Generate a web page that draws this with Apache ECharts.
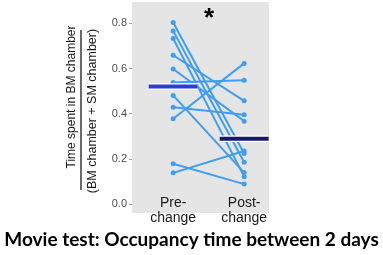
<!DOCTYPE html>
<html>
<head>
<meta charset="utf-8">
<script src="https://cdn.jsdelivr.net/npm/echarts@6/dist/echarts.min.js"></script>
<style>
  html, body { margin: 0; padding: 0; background: #fff; }
  #chart { width: 383px; height: 255px; }
</style>
</head>
<body>
<div id="chart"></div>
<script>
// data
var categories = ['Pre-\nchange', 'Post-\nchange'];
var preValues  = [0.804, 0.767, 0.733, 0.659, 0.598, 0.538, 0.481, 0.429, 0.378, 0.178, 0.138];
var postValues = [0.224, 0.185, 0.121, 0.457, 0.367, 0.548, 0.139, 0.395, 0.623, 0.088, 0.235];
var groupMeans = [0.521, 0.289];
var yTicks = [0, 0.2, 0.4, 0.6, 0.8];

var lineBlue = '#3f9ef2';
var meanColors = ['#2b3ecf', '#16186a'];
var halfBar = 0.345;

var chart = echarts.init(document.getElementById('chart'));

var series = [];
for (var i = 0; i < preValues.length; i++) {
	series.push({
		type: 'line',
		data: [[1, preValues[i]], [2, postValues[i]]],
		symbol: 'circle',
		symbolSize: 5,
		itemStyle: {color: lineBlue},
		lineStyle: {color: lineBlue, width: 2},
		z: 2
	});
}
// mean bars: white outline under a coloured bar
for (var g = 0; g < groupMeans.length; g++) {
	var seg = [[g + 1 - halfBar, groupMeans[g]], [g + 1 + halfBar, groupMeans[g]]];
	series.push({
		type: 'line', data: seg, symbol: 'none',
		lineStyle: {color: '#ffffff', width: 6.5, cap: 'butt'},
		z: 3
	});
	series.push({
		type: 'line', data: seg, symbol: 'none',
		lineStyle: {color: meanColors[g], width: 4, cap: 'butt'},
		z: 4
	});
}

var option = {
	animation: false,
	title: {
		text: 'Movie test: Occupancy time between 2 days',
		left: 'center',
		top: 225,
		textStyle: {fontFamily: 'Lato', fontWeight: 'bold', fontSize: 19, color: '#000'}
	},
	grid: {
		left: 132, top: 2, width: 137, height: 211,
		show: true, backgroundColor: '#e5e5e5', borderWidth: 0
	},
	xAxis: {
		type: 'value',
		min: 0.42, max: 2.35,
		axisLine: {show: false},
		axisTick: {show: false},
		splitLine: {show: false},
		axisLabel: {
			customValues: [1, 2],
			formatter: function (v) { return categories[Math.round(v) - 1]; },
			margin: -17,
			fontFamily: 'Liberation Sans',
			fontSize: 14,
			lineHeight: 15,
			color: '#1a1a1a'
		}
	},
	yAxis: {
		type: 'value',
		min: -0.04, max: 0.895,
		axisLine: {show: false},
		splitLine: {show: false},
		axisTick: {show: true, customValues: yTicks, length: 3, lineStyle: {color: '#a0a0a0'}},
		axisLabel: {
			customValues: yTicks,
			formatter: function (v) { return v.toFixed(1); },
			margin: 5,
			fontFamily: 'Liberation Sans',
			fontSize: 11,
			color: '#4d4d4d'
		}
	},
	graphic: [
		{
			type: 'text', x: 209, y: 19,
			style: {text: '*', font: 'bold 26px Liberation Sans', fill: '#000', textAlign: 'center', textVerticalAlign: 'middle'}
		},
		{
			type: 'text', x: 72, y: 97, rotation: Math.PI / 2,
			style: {text: 'Time spent in BM chamber', font: '12px Liberation Sans', fill: '#1a1a1a', textAlign: 'center', textVerticalAlign: 'middle'}
		},
		{
			type: 'line', shape: {x1: 81, y1: 30, x2: 81, y2: 190},
			style: {stroke: '#1a1a1a', lineWidth: 1.3}
		},
		{
			type: 'text', x: 93, y: 111, rotation: Math.PI / 2,
			style: {text: '(BM chamber + SM chamber)', font: '12.5px Liberation Sans', fill: '#1a1a1a', textAlign: 'center', textVerticalAlign: 'middle'}
		}
	],
	series: series
};
chart.setOption(option);
</script>
</body>
</html>
